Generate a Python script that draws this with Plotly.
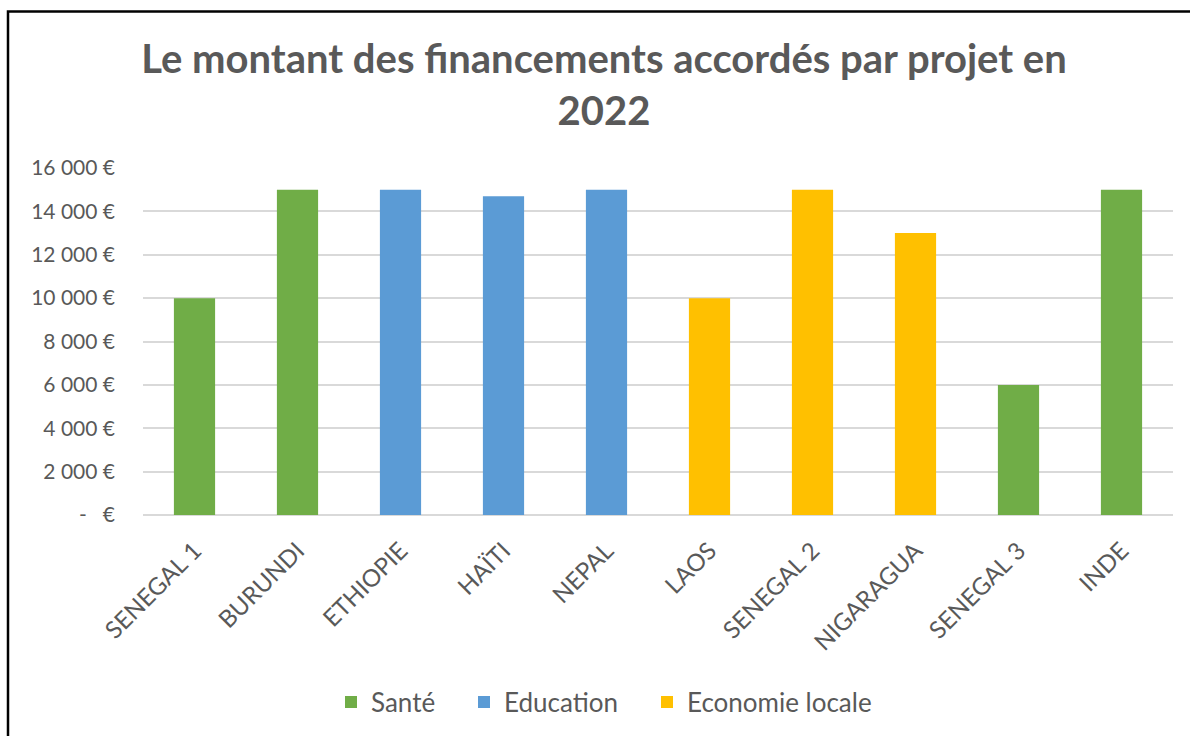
import plotly.graph_objects as go

categories = ["SENEGAL 1", "BURUNDI", "ETHIOPIE", "HAÏTI", "NEPAL", "LAOS",
              "SENEGAL 2", "NIGARAGUA", "SENEGAL 3", "INDE"]
amounts = [10000, 15000, 15000, 14700, 15000, 10000, 15000, 13000, 6000, 15000]
sectors = ["Santé", "Santé", "Education", "Education", "Education",
           "Economie locale", "Economie locale", "Economie locale", "Santé", "Santé"]
sector_names = ["Santé", "Education", "Economie locale"]
sector_colors = ["#70AD47", "#5B9BD5", "#FFC000"]
tick_vals = [0, 2000, 4000, 6000, 8000, 10000, 12000, 14000, 16000]
tick_text = ["-   €", "2 000 €", "4 000 €", "6 000 €", "8 000 €", "10 000 €",
             "12 000 €", "14 000 €", "16 000 €"]
title_text = "Le montant des financements accordés par projet en<br>2022"

W, H = 1190, 736
ML, MR, MT, MB = 143, 17, 168, 220
pw = W - ML - MR
ph = H - MT - MB

legend_ids = ["legend", "legend2", "legend3"]
legend_left_px = [331, 464, 647]

fig = go.Figure()
for name, color, lid in zip(sector_names, sector_colors, legend_ids):
    ys = [v if s == name else None for v, s in zip(amounts, sectors)]
    fig.add_trace(go.Bar(x=categories, y=ys, name=name, width=0.4, legend=lid,
                         showlegend=True,
                         marker=dict(color=color, line=dict(width=0))))

fig.add_shape(type="rect", xref="paper", yref="paper",
              x0=(8 - ML) / pw, x1=(1200 - ML) / pw,
              y0=(H - MB - 760) / ph, y1=(H - MB - 11) / ph,
              line=dict(color="black", width=2.5), fillcolor="rgba(0,0,0,0)",
              layer="above")

legend_common = dict(orientation="h", xanchor="left", y=(516 - 702) / ph,
                     yanchor="middle", font=dict(size=26, color="#595959"),
                     bgcolor="rgba(0,0,0,0)", visible=True)
legends = {}
for lid, lx in zip(legend_ids, legend_left_px):
    legends[lid] = dict(x=(lx - ML) / pw, **legend_common)

fig.update_layout(
    width=W, height=H,
    margin=dict(l=ML, r=MR, t=MT, b=MB),
    barmode="relative",
    showlegend=True,
    plot_bgcolor="white", paper_bgcolor="white",
    font=dict(family="Lato, Carlito, sans-serif", color="#595959"),
    title=dict(text=title_text, x=604 / W, xanchor="center", y=1 - 73 / H,
               yanchor="middle", yref="container",
               font=dict(size=40, color="#595959", family="Lato, sans-serif", weight="bold")),
    xaxis=dict(tickangle=-45, tickfont=dict(size=24, color="#595959"),
               showgrid=False, showline=False, ticks="", ticklen=0,
               ticklabelstandoff=16),
    yaxis=dict(range=[0, 16000], tickvals=tick_vals, ticktext=tick_text,
               tickfont=dict(size=21, color="#595959"),
               showgrid=True, gridcolor="#d9d9d9", gridwidth=1.5,
               zeroline=True, zerolinecolor="#d9d9d9", zerolinewidth=1.5,
               ticks="", ticklabelstandoff=27),
    **legends,
)

fig.write_html("out.html", post_script="document.body.style.margin='0';",
               config={"displayModeBar": False})
